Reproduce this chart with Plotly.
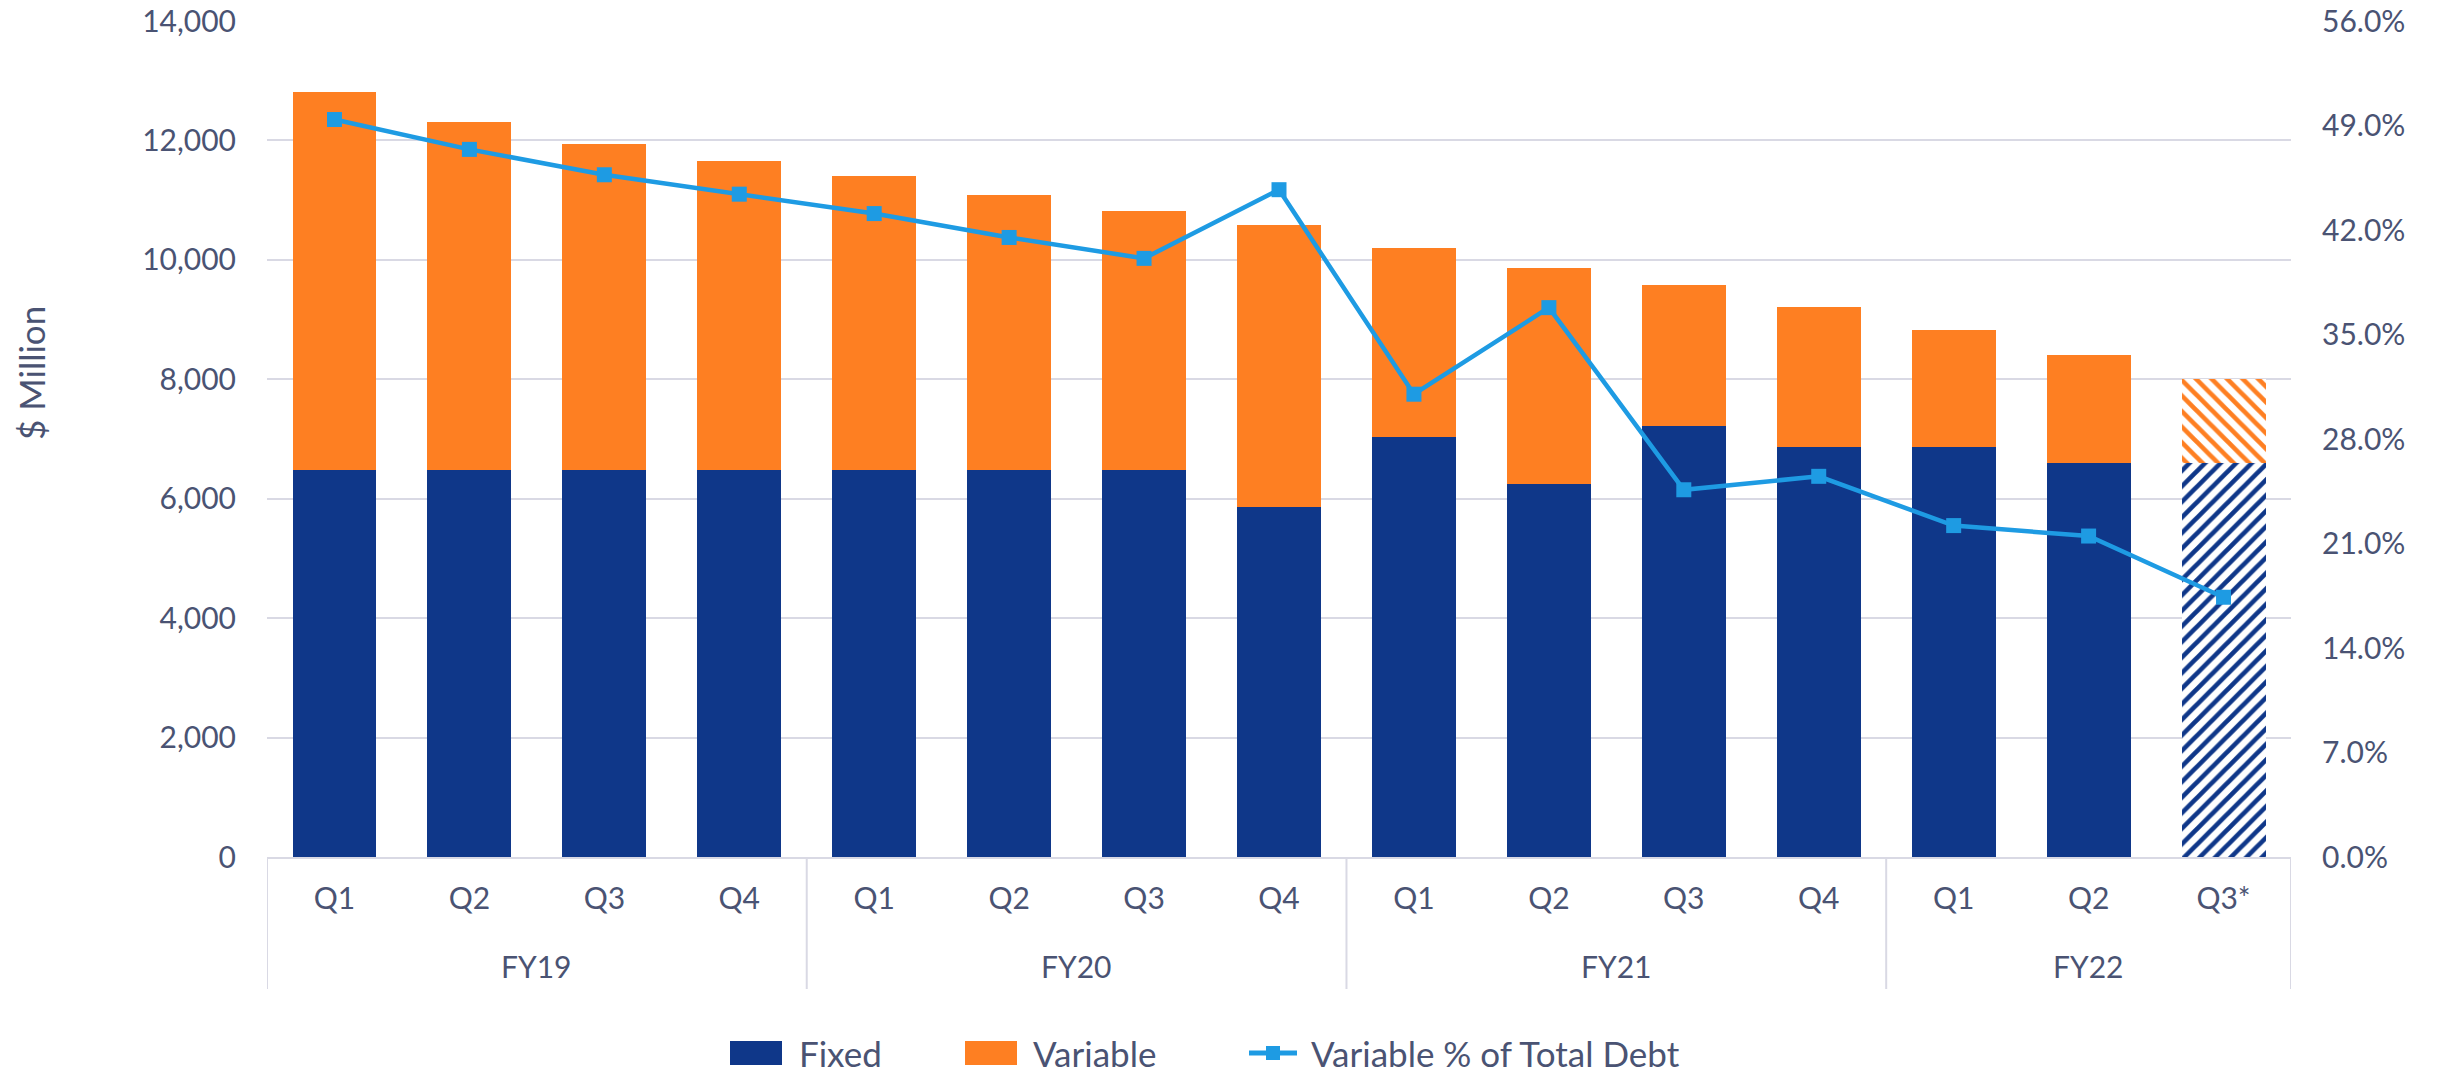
import plotly.graph_objects as go

fiscal_years = ["FY19", "FY20", "FY21", "FY22"]
quarters_per_year = [4, 4, 4, 3]
quarters = ["Q1", "Q2", "Q3", "Q4", "Q1", "Q2", "Q3", "Q4",
            "Q1", "Q2", "Q3", "Q4", "Q1", "Q2", "Q3*"]
total_debt = [12817, 12307, 11933, 11654, 11397, 11079, 10823, 10588,
              10195, 9866, 9571, 9209, 8819, 8401, 8000]
fixed = [6485, 6485, 6485, 6485, 6485, 6485, 6485, 5860,
         7036, 6240, 7220, 6864, 6864, 6602, 6590]
variable = [t - f for t, f in zip(total_debt, fixed)]
variable_pct = [49.4, 47.4, 45.7, 44.4, 43.1, 41.5, 40.1, 44.7,
                31.0, 36.8, 24.6, 25.5, 22.2, 21.5, 17.4]
projected = [False] * 14 + [True]

TEXT = "#4A5373"
GRID = "#D9D9E4"
FONT = "Lato"
NAVY = "#0F3789"
ORANGE = "#FE7F22"
BLUE = "#1E9BE3"

# unique category ids, labelled with the quarter names
fy_of_bar = [fy for fy, n in zip(fiscal_years, quarters_per_year) for _ in range(n)]
cats = [f"{fy} {q}" for fy, q in zip(fy_of_bar, quarters)]

# plot area in pixels (for paper coordinate conversion)
W, H = 2440, 1077
L, R, T, B = 267, 149, 21, 220
PW, PH = W - L - R, H - T - B


def px(xp):
    return (xp - L) / PW


def py(yp):
    return (H - B - yp) / PH


fig = go.Figure()
fig.add_trace(go.Bar(
    x=cats, y=fixed, name="Fixed",
    marker=dict(color=NAVY, line=dict(width=0),
                pattern=dict(shape=["/" if p else "" for p in projected],
                             fillmode="replace", bgcolor="white",
                             fgcolor=NAVY, size=11, solidity=0.42)),
))
fig.add_trace(go.Bar(
    x=cats, y=variable, name="Variable",
    marker=dict(color=ORANGE, line=dict(width=0),
                pattern=dict(shape=["\\" if p else "" for p in projected],
                             fillmode="replace", bgcolor="white",
                             fgcolor=ORANGE, size=11, solidity=0.42)),
))
fig.add_trace(go.Scatter(
    x=cats, y=variable_pct, name="Variable % of Total Debt", yaxis="y2",
    mode="lines+markers",
    line=dict(color=BLUE, width=4.5),
    marker=dict(symbol="square", size=15, color=BLUE),
))

shapes = []
annotations = []

# group dividers and fiscal-year labels
start = 0
bounds = [-0.5]
for fy, n in zip(fiscal_years, quarters_per_year):
    annotations.append(dict(
        x=start + (n - 1) / 2, xref="x", y=py(966), yref="paper",
        text=fy, showarrow=False, xanchor="center", yanchor="middle",
        font=dict(size=30, color=TEXT, family=FONT)))
    start += n
    bounds.append(start - 0.5)
for b in bounds:
    shapes.append(dict(type="line", xref="x", yref="paper", x0=b, x1=b,
                       y0=0, y1=py(989), line=dict(color=GRID, width=2)))

# y-axis title
annotations.append(dict(
    x=px(31), xref="paper", y=py(373), yref="paper", text="$ Million",
    textangle=-90, showarrow=False, xanchor="center", yanchor="middle",
    font=dict(size=35, color=TEXT, family=FONT)))

# legend (drawn manually to match the reference symbol sizes)
leg_y = 1053
for (x0, x1, col) in [(730, 782, NAVY), (965, 1017, ORANGE)]:
    shapes.append(dict(type="rect", xref="paper", yref="paper",
                       x0=px(x0), x1=px(x1), y0=py(leg_y + 12), y1=py(leg_y - 12),
                       fillcolor=col, line=dict(width=0)))
shapes.append(dict(type="line", xref="paper", yref="paper",
                   x0=px(1249), x1=px(1297), y0=py(leg_y), y1=py(leg_y),
                   line=dict(color=BLUE, width=5)))
shapes.append(dict(type="rect", xref="paper", yref="paper",
                   x0=px(1266), x1=px(1280), y0=py(leg_y + 7), y1=py(leg_y - 7),
                   fillcolor=BLUE, line=dict(width=0)))
for (x0, name) in [(797, "Fixed"), (1031, "Variable"),
                   (1309, "Variable % of Total Debt")]:
    annotations.append(dict(
        x=px(x0), xref="paper", y=py(leg_y), yref="paper", text=name,
        showarrow=False, xanchor="left", yanchor="middle",
        font=dict(size=35, color=TEXT, family=FONT)))

fig.update_layout(
    width=W, height=H,
    margin=dict(l=L, r=R, t=T, b=B, autoexpand=False),
    paper_bgcolor="white", plot_bgcolor="white",
    barmode="stack", bargap=0.378,
    font=dict(family=FONT, color=TEXT, size=30),
    showlegend=False,
    shapes=shapes,
    annotations=annotations,
    xaxis=dict(type="category", tickvals=cats, ticktext=quarters,
               range=[-0.5, len(cats) - 0.5],
               showline=True, linecolor=GRID, linewidth=2,
               ticks="", showgrid=False, automargin=False,
               tickfont=dict(size=30, color=TEXT), ticklabelstandoff=14),
    yaxis=dict(range=[0, 14000], dtick=2000, tickformat=",",
               showgrid=True, gridcolor=GRID, gridwidth=2,
               zeroline=False, showline=False, automargin=False,
               tickfont=dict(size=30, color=TEXT), ticklabelstandoff=30),
    yaxis2=dict(range=[0, 56], dtick=7, tickformat=".1f", ticksuffix="%",
                overlaying="y", side="right", showgrid=False,
                zeroline=False, showline=False, automargin=False,
                tickfont=dict(size=30, color=TEXT), ticklabelstandoff=30),
)

fig.write_html("out.html",
               config={"displayModeBar": False},
               post_script="document.body.style.margin='0';"
                           "document.body.style.overflow='hidden';")
